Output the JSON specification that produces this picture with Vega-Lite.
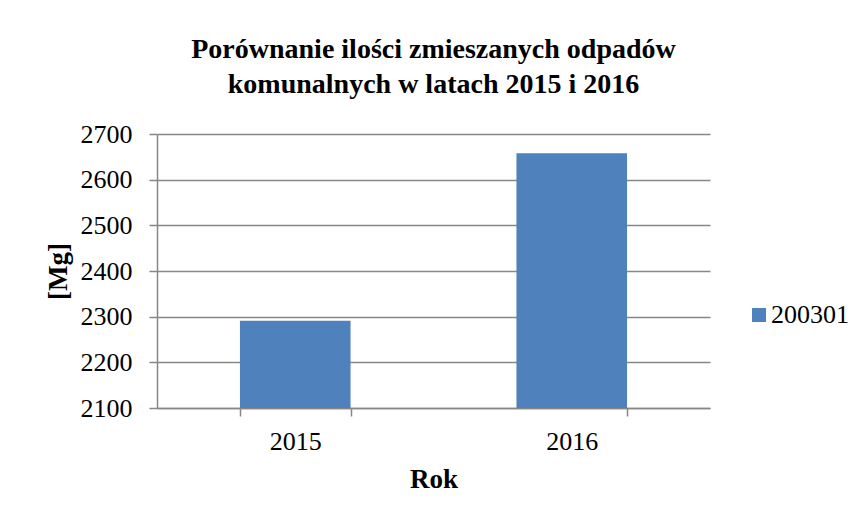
{
  "$schema": "https://vega.github.io/schema/vega-lite/v6.json",
  "autosize": "none",
  "width": 553,
  "height": 274,
  "padding": {"left": 157, "top": 134, "right": 154, "bottom": 111},
  "background": "white",
  "title": {
    "text": ["Porównanie ilości zmieszanych odpadów", "komunalnych w latach 2015 i 2016"],
    "font": "Liberation Serif",
    "fontSize": 28,
    "fontWeight": "bold",
    "lineHeight": 35,
    "color": "black",
    "anchor": "middle",
    "offset": 22
  },
  "data": {
    "values": [
      {"Rok": "2015", "kod": "200301", "Mg": 2291},
      {"Rok": "2016", "kod": "200301", "Mg": 2658}
    ]
  },
  "mark": {"type": "bar", "color": "#4F81BD", "clip": true},
  "encoding": {
    "x": {
      "field": "Rok",
      "type": "nominal",
      "scale": {"paddingInner": 0.6, "paddingOuter": 0.3},
      "axis": {
        "title": "Rok",
        "labelAngle": 0,
        "tickBand": "extent",
        "tickSize": 8,
        "labelPadding": 12,
        "titlePadding": 12
      }
    },
    "y": {
      "field": "Mg",
      "type": "quantitative",
      "scale": {"domain": [2100, 2700], "nice": false, "zero": false},
      "axis": {
        "title": "[Mg]",
        "format": "d",
        "values": [2100, 2200, 2300, 2400, 2500, 2600, 2700],
        "tickSize": 8,
        "labelPadding": 17,
        "titlePadding": 8,
        "grid": true
      }
    },
    "color": {
      "field": "kod",
      "type": "nominal",
      "scale": {"range": ["#4F81BD"]},
      "legend": {
        "title": null,
        "orient": "none",
        "legendX": 589,
        "legendY": 168,
        "padding": 0,
        "symbolType": "square",
        "symbolSize": 196,
        "symbolStrokeWidth": 0,
        "symbolOpacity": 1,
        "labelOffset": -1,
        "labelLimit": 0
      }
    }
  },
  "config": {
    "font": "Liberation Serif",
    "view": {"stroke": null},
    "legend": {
      "labelFont": "Liberation Serif",
      "labelFontSize": 26,
      "labelColor": "black"
    },
    "axis": {
      "labelFont": "Liberation Serif",
      "labelFontSize": 26,
      "labelColor": "black",
      "titleFont": "Liberation Serif",
      "titleFontSize": 27,
      "titleFontWeight": "bold",
      "titleColor": "black",
      "domainColor": "#878787",
      "tickColor": "#878787",
      "gridColor": "#878787",
      "domainWidth": 1.5,
      "tickWidth": 1.5,
      "gridWidth": 1.5
    },
    "axisX": {"grid": false}
  }
}
